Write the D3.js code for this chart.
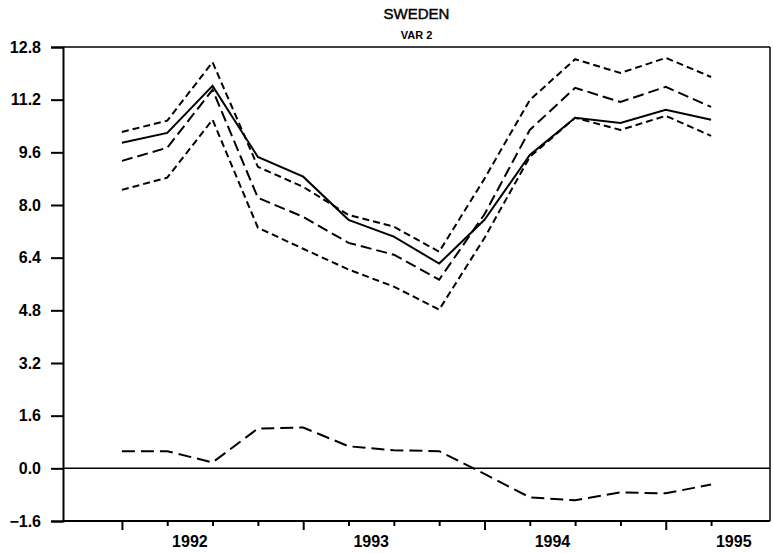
<!DOCTYPE html>
<html>
<head>
<meta charset="utf-8">
<script src="https://cdn.jsdelivr.net/npm/d3@7/dist/d3.min.js"></script>
<style>
  html, body { margin: 0; padding: 0; background: #fff; }
  svg { display: block; }
  text { font-family: "Liberation Sans", Arial, Helvetica, sans-serif; fill: #000; }
</style>
</head>
<body>
<svg id="chart" width="773" height="553"></svg>
<script>
// Quarterly observations, 1992Q1 .. 1995Q2
const quarters = ["1992Q1","1992Q2","1992Q3","1992Q4",
                  "1993Q1","1993Q2","1993Q3","1993Q4",
                  "1994Q1","1994Q2","1994Q3","1994Q4",
                  "1995Q1","1995Q2"];
const actual   = [9.89, 10.19, 11.62, 9.46, 8.86, 7.55, 7.04, 6.22, 7.55, 9.52, 10.65, 10.49, 10.89, 10.59];
const forecast = [9.34, 9.74, 11.50, 8.22, 7.64, 6.85, 6.49, 5.73, 7.72, 10.28, 11.56, 11.13, 11.59, 10.98];
const upper    = [10.22, 10.56, 12.34, 9.16, 8.55, 7.70, 7.34, 6.58, 8.80, 11.19, 12.43, 12.01, 12.47, 11.89];
const lower    = [8.46, 8.83, 10.59, 7.31, 6.67, 6.04, 5.52, 4.82, 7.00, 9.46, 10.65, 10.28, 10.71, 10.10];
const errors   = [0.52, 0.52, 0.18, 1.21, 1.24, 0.67, 0.55, 0.52, -0.17, -0.88, -0.97, -0.73, -0.76, -0.49];
const yTicks   = [-1.6, 0.0, 1.6, 3.2, 4.8, 6.4, 8.0, 9.6, 11.2, 12.8];
const years    = ["1992", "1993", "1994", "1995"];

const svg = d3.select("#chart");
const plotLeft = 63, plotRight = 770, plotTop = 47, plotBottom = 521;

const x = d3.scaleLinear().domain([-1.3, 14.3]).range([plotLeft, plotRight]);
const y = d3.scaleLinear().domain([-1.6, 12.8]).range([plotBottom, plotTop]);

// titles
const cx = (plotLeft + plotRight) / 2;
svg.append("text").attr("x", cx).attr("y", 19).attr("text-anchor", "middle")
  .style("font-size", "15px").style("stroke", "#000").style("stroke-width", 0.45)
  .text("SWEDEN");
svg.append("text").attr("x", cx).attr("y", 39).attr("text-anchor", "middle")
  .style("font-size", "11px").style("font-weight", "bold").text("VAR 2");

// frame: top and right borders
svg.append("line").attr("x1", plotLeft).attr("x2", plotRight).attr("y1", plotTop).attr("y2", plotTop)
  .attr("stroke", "#000").attr("stroke-width", 1.5);
svg.append("line").attr("x1", plotRight).attr("x2", plotRight).attr("y1", plotTop).attr("y2", plotBottom)
  .attr("stroke", "#000").attr("stroke-width", 1.5);

// y axis
const yAxis = svg.append("g").attr("transform", `translate(${plotLeft},0)`)
  .call(d3.axisLeft(y).tickValues(yTicks).tickFormat(d3.format(".1f")).tickSize(12).tickPadding(10));
yAxis.select(".domain").attr("stroke-width", 2);
yAxis.selectAll(".tick line").attr("stroke-width", 2);
yAxis.selectAll(".tick text").style("font-size", "16px").style("font-weight", "bold")
  .style("font-family", "'Liberation Sans', Arial, sans-serif");

// x axis: a tick per quarter, longer at the first quarter of each year
const xAxis = svg.append("g").attr("transform", `translate(0,${plotBottom})`)
  .call(d3.axisBottom(x).tickValues(d3.range(quarters.length)).tickFormat("").tickSizeOuter(0).tickSize(5));
xAxis.select(".domain").attr("d", `M${plotLeft},0H${plotRight}`).attr("stroke-width", 2);
xAxis.selectAll(".tick line")
  .attr("y2", d => (d % 4 === 0 ? 9 : 5))
  .attr("stroke-width", 2);

// year labels centred on each year's quarters
svg.append("g").selectAll("text").data(years).join("text")
  .attr("x", (d, i) => x(i * 4 + 1.5))
  .attr("y", 547)
  .attr("text-anchor", "middle")
  .style("font-size", "16px").style("font-weight", "bold")
  .text(d => d);

// zero line
svg.append("line").attr("x1", plotLeft).attr("x2", plotRight).attr("y1", y(0)).attr("y2", y(0))
  .attr("stroke", "#000").attr("stroke-width", 1.5);

const line = d3.line().x((d, i) => x(i)).y(d => y(d));

function series(values, dash, width) {
  svg.append("path").datum(values)
    .attr("d", line)
    .attr("fill", "none")
    .attr("stroke", "#000")
    .attr("stroke-width", width)
    .attr("stroke-dasharray", dash)
    .attr("stroke-linejoin", "miter");
}

series(upper, "7,4", 2);
series(lower, "7,4", 2);
series(forecast, "11,5", 2);
series(actual, null, 2);
series(errors, "13,6", 2);
</script>
</body>
</html>
